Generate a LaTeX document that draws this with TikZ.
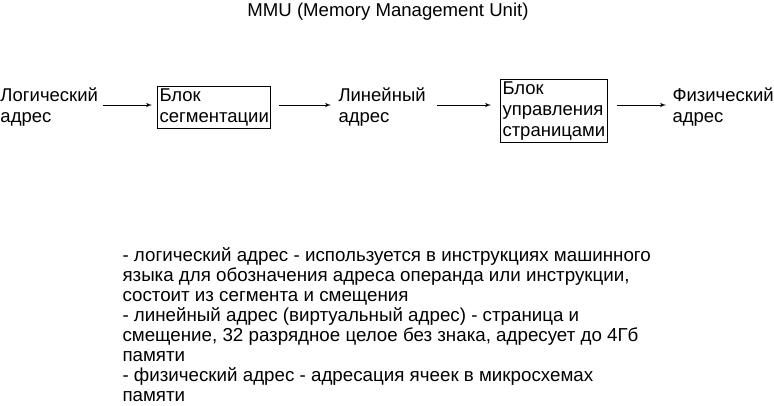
\documentclass[tikz,border=0pt]{standalone}
\usepackage{fontspec}
\setmainfont{Liberation Sans}
\usetikzlibrary{arrows}
\tikzstyle{tekst}=[inner sep=0pt, align=left, anchor=north west,
font=\fontsize{18.5}{21}\selectfont]
\tikzstyle{blok}=[tekst, draw, inner xsep=2pt]
\tikzstyle{strelka}=[->, shorten <=5pt, shorten >=5pt]
\tikzstyle{zametki}=[tekst, font=\fontsize{18.75}{20}\selectfont]

\begin{document}
\begin{tikzpicture}[x=1pt, y=-1pt, >=latex', line width=1pt]
		\useasboundingbox (0,0) rectangle (774,405);
		\node[anchor=base, inner sep=0pt, font=\fontsize{18.6}{21}\selectfont] (zagolovok) at (388,16) {MMU (Memory Management Unit)};
		\coordinate (os) at (0,105);
		\node[tekst] (logich) at (0,86) {\strut Логический\\адрес};
		\node[blok] (segm) at (157,86) {\strut Блок\\сегментации\strut};
		\node[tekst] (lineyn) at (338,86) {\strut Линейный\\адрес};
		\node[blok] (stran) at (500,79) {\strut Блок\\управления\\страницами\strut};
		\node[tekst] (fizich) at (672,86) {\strut Физический\\адрес};
		\draw[strelka] (logich.east |- os) -- (segm.west |- os);
		\draw[strelka, shorten <=8pt, shorten >=7pt] (segm.east |- os) -- (lineyn.west |- os);
		\draw[strelka, shorten <=11pt, shorten >=9pt] (lineyn.east |- os) -- (stran.west |- os);
		\draw[strelka, shorten <=9pt, shorten >=6pt] (stran.east |- os) -- (fizich.west |- os);
		\node[zametki] (opisanie) at (122,247) {\strut - логический адрес - используется в инструкциях машинного\\
		языка для обозначения адреса операнда или инструкции,\\
		состоит из сегмента и смещения\\
		- линейный адрес (виртуальный адрес) - страница и\\
		смещение, 32 разрядное целое без знака, адресует до 4Гб\\
		памяти\\
		- физический адрес - адресация ячеек в микросхемах\\
		памяти};
	\end{tikzpicture}
\end{document}
